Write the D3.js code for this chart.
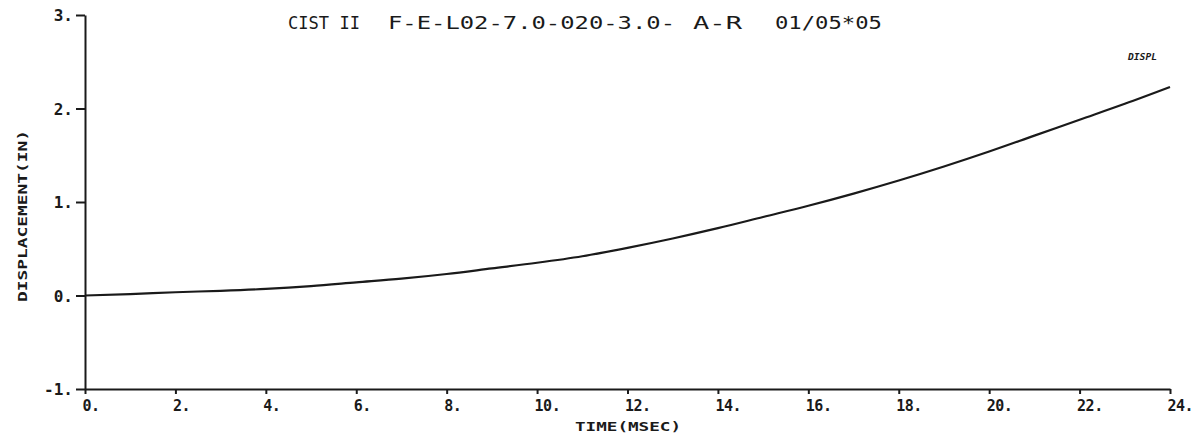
<!DOCTYPE html>
<html>
<head>
<meta charset="utf-8">
<script src="https://cdn.jsdelivr.net/npm/d3@7"></script>
<style>
  html, body { margin: 0; padding: 0; background: #fff; }
  svg { display: block; }
  text { fill: #1a1a1a; font-family: "DejaVu Sans Mono", monospace; }
</style>
</head>
<body>
<svg id="chart" width="1192" height="440"></svg>
<script>
// ---- data ----
const timeMs = [0,1,2,3,4,5,6,7,8,9,10,11,12,13,14,15,16,17,18,19,20,21,22,23,24];
const displacement = [0,0.015,0.035,0.05,0.07,0.1,0.14,0.18,0.23,0.29,0.35,0.42,0.51,0.61,0.72,0.84,0.96,1.09,1.23,1.38,1.54,1.71,1.88,2.05,2.23];
const xTicks = [0,2,4,6,8,10,12,14,16,18,20,22,24];
const yTicks = [-1,0,1,2,3];
const titleParts = ["CIST II", "F-E-L02-7.0-020-3.0-", "A-R", "01/05*05"];
const xLabel = "TIME(MSEC)";
const yLabel = "DISPLACEMENT(IN)";
const seriesLabel = "DISPL";

const svg = d3.select("#chart");
const x = d3.scaleLinear().domain([0, 24]).range([85, 1170]);
const y = d3.scaleLinear().domain([-1, 3]).range([389, 15]);
const ink = "#1a1a1a";

// y axis
const gy = svg.append("g").attr("transform", `translate(${x(0)},0)`)
  .call(d3.axisLeft(y).tickValues(yTicks).tickSize(9).tickSizeOuter(0).tickPadding(3)
    .tickFormat(d => d + "."));
gy.selectAll("path,line").attr("stroke", ink).attr("stroke-width", 2);
gy.selectAll("text").attr("font-size", 16).attr("font-weight", "bold")
  .attr("fill", ink).attr("dy", "0.35em");

// x axis
const gx = svg.append("g").attr("transform", `translate(0,${y(-1)})`)
  .call(d3.axisBottom(x).tickValues(xTicks).tickSize(5).tickSizeOuter(0).tickPadding(6)
    .tickFormat(d => d + "."));
gx.selectAll("path,line").attr("stroke", ink).attr("stroke-width", 2);
gx.selectAll("text").attr("font-size", 15).attr("font-weight", "bold")
  .attr("letter-spacing", -0.5)
  .attr("fill", ink).attr("text-anchor", "start").attr("dx", -3);

// curve
const line = d3.line().x((d, i) => x(timeMs[i])).y(d => y(d)).curve(d3.curveMonotoneX);
svg.append("path").datum(displacement)
  .attr("d", line).attr("fill", "none").attr("stroke", ink).attr("stroke-width", 2.2);

// title
const titlePos = [[288, 72], [388, 287], [693, 49], [775, 107]];
titleParts.forEach((t, i) => {
  svg.append("text").attr("x", titlePos[i][0]).attr("y", 29)
    .attr("font-size", 17).attr("textLength", titlePos[i][1])
    .attr("lengthAdjust", "spacingAndGlyphs").text(t);
});

// axis labels
svg.append("text").attr("x", 575).attr("y", 431).attr("font-size", 13)
  .attr("font-weight", "bold").attr("textLength", 106)
  .attr("lengthAdjust", "spacingAndGlyphs").text(xLabel);

svg.append("text").attr("transform", "translate(27,302) rotate(-90)")
  .attr("font-size", 12).attr("font-weight", "bold").attr("textLength", 172)
  .attr("lengthAdjust", "spacingAndGlyphs").text(yLabel);

// series label
svg.append("text").attr("x", 1128).attr("y", 60).attr("font-size", 9)
  .attr("font-weight", "bold").attr("font-style", "italic")
  .attr("textLength", 29).attr("lengthAdjust", "spacingAndGlyphs").text(seriesLabel);
</script>
</body>
</html>
